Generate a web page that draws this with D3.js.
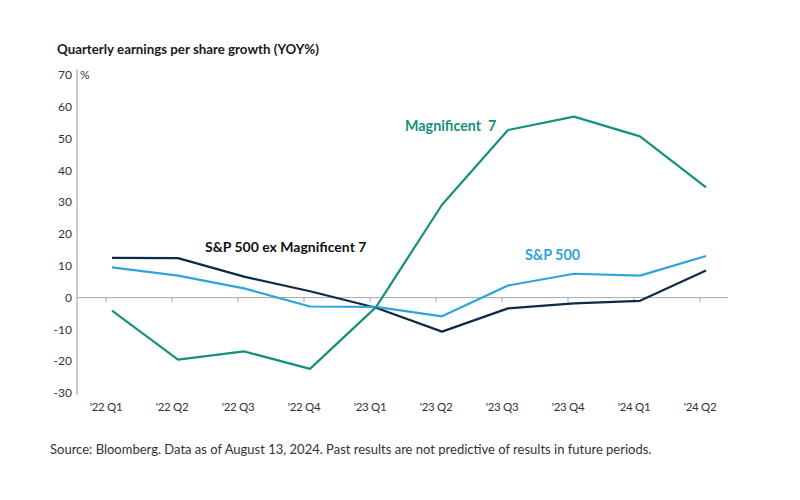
<!DOCTYPE html>
<html><head><meta charset="utf-8">
<script src="https://cdn.jsdelivr.net/npm/d3@7"></script>
<style>body{margin:0;background:#fff;} svg{display:block;font-family:Lato,"Open Sans",sans-serif;}</style>
</head><body>
<svg id="c" width="800" height="500"></svg>
<script>
const quarters = ["'22 Q1","'22 Q2","'22 Q3","'22 Q4","'23 Q1","'23 Q2","'23 Q3","'23 Q4","'24 Q1","'24 Q2"];
const mag7 = [-4.1,-19.5,-16.9,-22.4,-3.0,29.2,52.7,56.9,50.7,34.7];
const sp500 = [9.5,6.9,2.9,-2.8,-2.9,-5.9,3.8,7.5,6.9,13.1];
const spExMag7 = [12.5,12.4,6.6,2.0,-3.2,-10.7,-3.4,-1.8,-1.0,8.5];
const yTicks = [70,60,50,40,30,20,10,0,-10,-20,-30];

const svg = d3.select("#c");
const x = d3.scalePoint().domain(quarters).range([106,700]);
const y = d3.scaleLinear().domain([-30,70]).range([393,75]);

// title
svg.append("text").attr("x",57).attr("y",54).attr("font-size",13.3).attr("font-weight",700)
  .attr("fill","#1a1a1a").text("Quarterly earnings per share growth (YOY%)");

// y axis line
svg.append("line").attr("x1",77).attr("x2",77).attr("y1",y(70)-6).attr("y2",y(-30)+2)
  .attr("stroke","#9a9a9a").attr("stroke-width",1);
// y tick labels
svg.selectAll("text.yt").data(yTicks).join("text").attr("class","yt")
  .attr("x",72).attr("y",d=>y(d)).attr("dy","0.35em").attr("text-anchor","end")
  .attr("font-size",12).attr("fill","#333").text(d=>d);
svg.append("text").attr("x",80).attr("y",y(70)).attr("dy","0.35em").attr("font-size",12)
  .attr("fill","#333").text("%");

// zero line
svg.append("line").attr("x1",77).attr("x2",728).attr("y1",y(0)).attr("y2",y(0))
  .attr("stroke","#a8a8a8").attr("stroke-width",1);
// x ticks
svg.selectAll("line.xt").data(quarters).join("line").attr("class","xt")
  .attr("x1",d=>x(d)).attr("x2",d=>x(d)).attr("y1",y(0)).attr("y2",y(0)+5)
  .attr("stroke","#a8a8a8");
svg.selectAll("text.xl").data(quarters).join("text").attr("class","xl")
  .attr("x",d=>x(d)).attr("y",411).attr("text-anchor","middle")
  .attr("font-size",11.5).attr("fill","#333").attr("letter-spacing","-0.3").text(d=>d);

// lines
const g = svg.append("g").attr("transform","translate(6,0)");
const line = d3.line().x((d,i)=>x(quarters[i])).y(d=>y(d));
const series = [
  {v:spExMag7, c:"#0f2a44"},
  {v:sp500, c:"#2ea3dc"},
  {v:mag7, c:"#16907c"}
];
series.forEach(s=>{
  g.append("path").attr("d",line(s.v)).attr("fill","none").attr("stroke",s.c)
   .attr("stroke-width",2.2).attr("stroke-linejoin","round");
});

// series labels
svg.append("text").attr("x",405).attr("y",131).attr("font-size",14.3).attr("font-weight",700)
  .attr("fill","#16907c").attr("xml:space","preserve").text("Magnificent  7");
svg.append("text").attr("x",525).attr("y",260).attr("font-size",14.3).attr("font-weight",700)
  .attr("fill","#2ea3dc").text("S&P 500");
svg.append("text").attr("x",205).attr("y",252).attr("font-size",14).attr("font-weight",700)
  .attr("fill","#111").text("S&P 500 ex Magnificent 7");

// source
svg.append("text").attr("x",50).attr("y",454).attr("font-size",13).attr("fill","#333")
  .text("Source: Bloomberg. Data as of August 13, 2024. Past results are not predictive of results in future periods.");
</script>
</body></html>
